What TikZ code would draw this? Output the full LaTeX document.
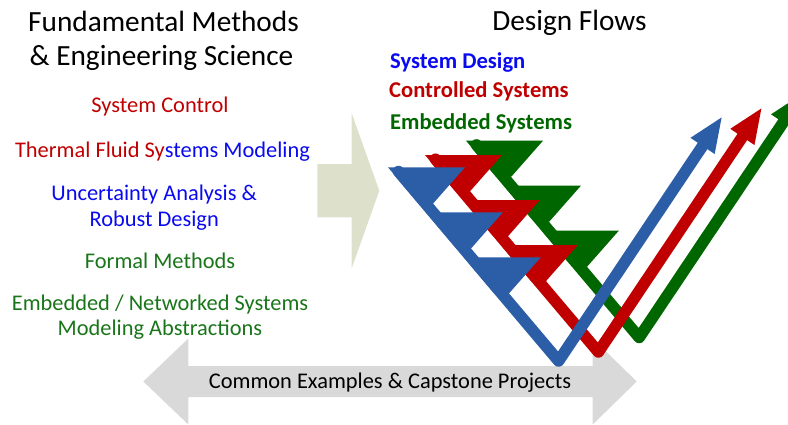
\documentclass[tikz,border=0pt]{standalone}
\usepackage{fontspec}
\setmainfont{Carlito}
\usetikzlibrary{arrows.meta,calc}

\definecolor{flowblue}{RGB}{43,94,167}
\definecolor{flowred}{RGB}{192,0,0}
\definecolor{flowgreen}{RGB}{0,102,0}
\definecolor{txtred}{RGB}{192,0,0}
\definecolor{txtblue}{RGB}{10,10,240}
\definecolor{txtgreen}{RGB}{26,117,26}
\definecolor{lblgreen}{RGB}{0,102,0}
\definecolor{arrowtan}{RGB}{221,224,203}
\definecolor{arrowgray}{RGB}{217,217,217}

\tikzset{
  headline/.style={anchor=base, inner sep=0pt, font=\fontsize{29.3}{34}\selectfont},
  topic/.style={anchor=base, inner sep=0pt, font=\fontsize{22.4}{26}\selectfont},
  flowlabel/.style={anchor=base west, inner sep=0pt, font=\bfseries\fontsize{22.6}{26}\selectfont},
  flowline/.style={line width=11.5pt, line cap=round, line join=round,
    -{Triangle[length=36pt,width=26pt]}},
}

% One V-shaped design flow: stepped descending arm with three flags,
% rising arm ending in an arrow head.
% #1 name, #2 colour, #3 x of first flag corner, #4 y of first flag corner, #5 y of the V bottom
\newcommand\designflow[5]{%
  \pgfmathsetmacro\fx{#3}%
  \pgfmathsetmacro\fy{#4}%
  \coordinate (#1-s) at ({\fx+10.5},{\fy+4.2});
  \coordinate (#1-b) at ({\fx+7.5+0.842*(#5-\fy)},{#5});
  \coordinate (#1-t) at ($(#1-b)+(164,-245)$);
  \foreach \i in {0,1,2}{
    \fill[#2] ({\fx+37.9*\i},{\fy+45*\i}) -- ++(77,0)
      -- ({\fx+45.3+37.9*\i},{\fy+45*\i+36})
      -- ({\fx+0.842*(45*\i+36)},{\fy+45*\i+36}) -- cycle;
  }
  \draw[flowline,#2] (#1-s) -- (#1-b) -- (#1-t);
}

\begin{document}
\begin{tikzpicture}[x=1pt,y=-1pt]
\useasboundingbox (0,0) rectangle (788,424);
\clip (0,0) rectangle (788,424);

% shared examples: grey double arrow along the bottom
\fill[arrowgray] (143.3,381.5) -- (188.3,338.5) -- (188.3,366) -- (592.7,366)
  -- (592.7,338.5) -- (636.7,381.5) -- (592.7,424.5) -- (592.7,397)
  -- (188.3,397) -- (188.3,424.5) -- cycle;
\node[topic, text=black] (capstone) at (390,388.3) {Common Examples \& Capstone Projects};

% methods feed into the flows
\fill[arrowtan] (317.3,164) -- (351.7,164) -- (351.7,113.3) -- (379.3,190.7)
  -- (351.7,268.3) -- (351.7,217.3) -- (317.3,217.3) -- cycle;

% left column
\node[headline] (fund1) at (163.5,31.7) {Fundamental Methods};
\node[headline] (fund2) at (161.5,65) {\& Engineering Science};
\node[topic, text=txtred] (ctrl) at (160,112.3) {System Control};
\node[topic] (thermal) at (162.5,157.3) {{\color{txtred}Thermal Fluid Sy}{\color{txtblue}stems Modeling}};
\node[topic, text=txtblue] (unc1) at (154.2,200) {Uncertainty Analysis \&};
\node[topic, text=txtblue] (unc2) at (154.2,226.7) {Robust Design};
\node[topic, text=txtgreen] (formal) at (160,268.3) {Formal Methods};
\node[topic, text=txtgreen] (emb1) at (160,310) {Embedded / Networked Systems};
\node[topic, text=txtgreen] (emb2) at (160,335) {Modeling Abstractions};

% right column
\node[headline] (flows) at (569.5,30.7) {Design Flows};
\node[flowlabel, text=txtblue] (lsys) at (390,68.3) {System Design};
\node[flowlabel, text=txtred] (lctl) at (389,97) {Controlled Systems};
\node[flowlabel, text=lblgreen] (lemb) at (390,129) {Embedded Systems};

\designflow{gflow}{flowgreen}{466}{140.7}{337.5}
\designflow{rflow}{flowred}{425}{155}{352}
\designflow{bflow}{flowblue}{388}{167.3}{361}
\end{tikzpicture}
\end{document}
